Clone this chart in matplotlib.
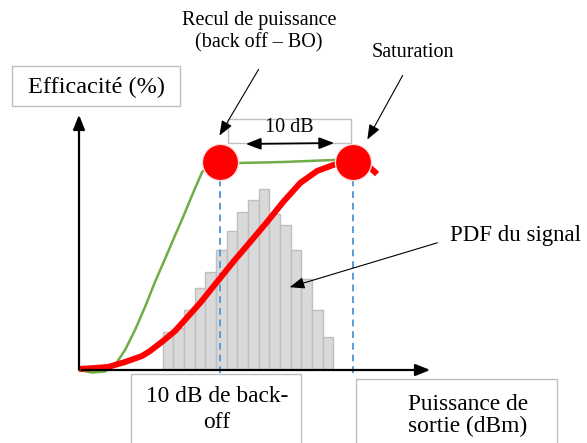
import matplotlib
matplotlib.use('Agg')
import matplotlib.pyplot as plt
from matplotlib.patches import Rectangle
import numpy as np

plt.rcParams['font.family'] = ['Liberation Serif', 'DejaVu Serif']

# Output power relative to saturation (dB) and efficiency (%)
green_x = [-20.60, -19.62, -18.65, -17.89, -17.14, -16.39, -15.64, -14.89,
           -14.14, -13.53, -12.78, -12.03, -11.35, -10.75, -9.85, -8.65,
           -5.26, -1.50, -0.08]
green_y = [0.0, -0.97, -0.58, 1.94, 7.75, 15.50, 24.42, 34.11,
           43.02, 50.39, 59.30, 68.60, 76.74, 79.46, 80.23, 80.23,
           80.62, 81.40, 81.78]
red_x = [-20.60, -19.40, -18.42, -17.14, -15.86, -15.26, -14.29, -13.38,
         -12.78, -11.50, -10.23, -9.02, -7.74, -6.47, -5.26, -3.98,
         -2.71, -1.50, -0.60, 0.23, 1.13, 1.80]
red_y = [0.39, 0.78, 1.16, 3.10, 5.43, 7.36, 11.24, 15.12,
         18.60, 25.97, 34.11, 41.86, 49.61, 57.36, 65.12, 72.48,
         77.13, 79.46, 80.62, 81.01, 79.07, 75.97]

# Signal PDF histogram
bin_start = -14.3
bin_width = 0.8
pdf_heights = [14.8, 16.4, 23.3, 31.9, 37.9, 46.5, 53.9, 61.2, 65.9, 70.0,
               60.3, 56.2, 46.5, 35.3, 23.3, 12.7]

# Operating points (back-off and saturation)
point_x = [-10.0, 0.0]
point_y = [80.6, 80.6]

W, H = 587, 443
fig = plt.figure(figsize=(W / 100, H / 100), dpi=100)

# main plot area (pixel box 79..433 x 112..370)
ax = fig.add_axes([79 / W, (H - 370) / H, 354 / W, 258 / H])
ax.set_xlim(-20.6, 6.0)
ax.set_ylim(0, 100)
for s in ax.spines.values():
    s.set_visible(False)
ax.set_xticks([])
ax.set_yticks([])
ax.patch.set_alpha(0)

centers = bin_start + bin_width / 2 + bin_width * np.arange(len(pdf_heights))
ax.bar(centers, pdf_heights, width=bin_width, color='#D9D9D9',
       edgecolor='#BFBFBF', linewidth=1, zorder=2)

for px, py in zip(point_x, point_y):
    ax.plot([px, px], [-1, py], color='#5B9BD5', lw=1.4,
            dashes=(3.5, 2.5), zorder=3, clip_on=False)

ax.plot(green_x, green_y, color='#70AD47', lw=1.8, zorder=4, clip_on=False,
        solid_joinstyle='round')
ax.plot(red_x, red_y, color='#FF0000', lw=4.3, zorder=5, clip_on=False,
        solid_capstyle='butt', solid_joinstyle='round')
ax.scatter(point_x, point_y, s=680, color='#FF0000', edgecolor='#FFE0E0',
           linewidth=1, zorder=6, clip_on=False)

# axes arrows
head = '-|>,head_length=0.8,head_width=0.32'
ax.annotate('', xy=(0, 1), xytext=(0, -0.008), xycoords='axes fraction',
            arrowprops=dict(arrowstyle=head, color='black', lw=1.6,
                            mutation_scale=11), zorder=7)
ax.annotate('', xy=(1, 0), xytext=(0, 0), xycoords='axes fraction',
            arrowprops=dict(arrowstyle=head, color='black', lw=1.6,
                            mutation_scale=11), zorder=7)

# overlay in pixel coordinates for labels
ov = fig.add_axes([0, 0, 1, 1])
ov.set_xlim(0, W)
ov.set_ylim(H, 0)
ov.axis('off')
ov.patch.set_alpha(0)

box_col = '#BFBFBF'
thin = dict(arrowstyle='-|>,head_length=0.9,head_width=0.35', color='black',
            lw=0.8, mutation_scale=10)

ov.add_patch(Rectangle((12, 66), 168, 40, fill=False, ec=box_col, lw=1))
ov.text(96, 87, 'Efficacité (%)', fontsize=17.5, ha='center', va='center')

ov.add_patch(Rectangle((228, 119), 123, 24, fill=False, ec=box_col, lw=1))
ov.text(289, 127, '10 dB', fontsize=14.5, ha='center', va='center')
ov.annotate('', xy=(243, 144), xytext=(337, 143),
            arrowprops=dict(arrowstyle='<|-|>,head_length=0.9,head_width=0.35',
                            color='black', lw=1.3, mutation_scale=10))

ov.text(259, 20, 'Recul de puissance', fontsize=14.5, ha='center', va='center')
ov.text(259, 43, '(back off – BO)', fontsize=14.5, ha='center', va='center')
ov.annotate('', xy=(218, 138), xytext=(260, 67), arrowprops=thin)

ov.text(413, 52, 'Saturation', fontsize=14.5, ha='center', va='center')
ov.annotate('', xy=(366, 142), xytext=(404, 73), arrowprops=thin)

ov.text(516, 235, 'PDF du signal', fontsize=16.5, ha='center', va='center')
ov.annotate('', xy=(287, 288), xytext=(440, 242), arrowprops=thin)

ov.add_patch(Rectangle((131, 374), 170, 80, fill=False, ec=box_col, lw=1))
ov.text(217, 397, '10 dB de back-', fontsize=16.8, ha='center', va='center')
ov.text(217, 423, 'off', fontsize=16.8, ha='center', va='center')

ov.add_patch(Rectangle((356, 379), 201, 80, fill=False, ec=box_col, lw=1))
ov.text(468, 404, 'Puissance de', fontsize=16.8, ha='center', va='center')
ov.text(468, 426, 'sortie (dBm)', fontsize=16.8, ha='center', va='center')

fig.savefig('out.png', dpi=100)
